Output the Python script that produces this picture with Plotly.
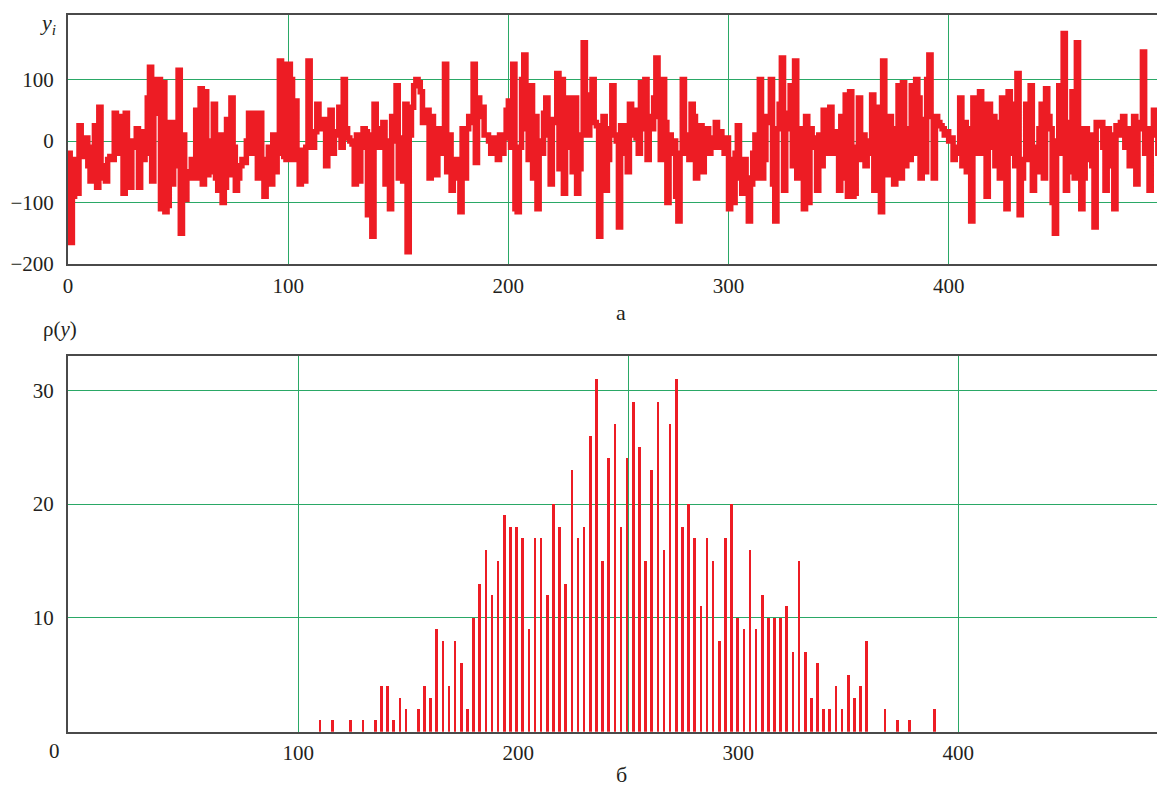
import plotly.graph_objects as go

# ---------------- data ----------------
# (a) time series y_i, i = 0..498
Y_SERIES = [
    -20, -165, -90, -30, -85, 25, -20, -25, 5, -40,
    -65, -10, 25, -75, 55, -40, -60, -65, -30, -25,
    -30, 45, -20, 40, 25, -85, 45, -10, -75, 0,
    -10, 20, -75, 15, -30, -20, 70, 120, -65, 100,
    45, 100, -110, 95, -115, -105, 30, -70, 30, -40,
    115, -150, 10, -95, -60, -50, -30, -60, 50, -60,
    85, -70, 80, -55, 0, -50, 60, -60, -80, 10,
    -100, -75, 35, -55, 70, -10, -80, -60, -40, -30,
    -35, 0, 45, -20, 45, 40, -60, 45, -30, -90,
    -70, -10, -70, 10, -50, -20, 130, 125, -25, -30,
    125, 100, -30, 65, -20, -70, -15, -65, -10, 130,
    10, -10, 15, 60, 30, 20, 35, -40, 10, 50,
    -20, 15, 10, 55, -10, 100, 20, 5, 0, -5,
    -70, 10, -65, -10, 20, 15, -120, 10, -155, 60,
    20, -10, 15, 30, -70, 0, -110, 40, 0, 90,
    -60, 5, -65, 60, -180, 10, 55, 90, 100, 95,
    80, 30, 40, 50, -60, 40, -20, -55, 20, -20,
    -10, 125, -50, 10, -80, -40, -30, -60, -115, 20,
    -60, 20, 40, 30, 125, -35, 70, 40, 55, 10,
    10, 0, -20, 5, -10, -30, 10, -20, 5, 50,
    65, -10, 125, -110, -115, -10, 100, 140, 20, -30,
    90, -60, 40, -110, 0, -20, 45, 70, 10, -70,
    35, 30, 110, -45, 100, -85, 70, -10, 70, -50,
    70, -85, -45, 10, 160, 60, 10, 75, 100, 30,
    25, -155, 20, 40, -80, -30, 20, 90, 10, 0,
    -140, 25, -20, 25, -50, 60, 10, 50, 5, -20,
    95, 20, 100, -30, 40, 20, 70, 135, 40, -30,
    100, 30, -100, 10, -20, 0, -90, -130, -20, 100,
    -20, 10, -30, 60, 40, -60, 15, 25, -50, 0,
    20, -20, 5, -10, 30, -10, 15, 0, -20, 5,
    -110, -30, -100, -20, 25, -60, -85, -30, -60, -130,
    -70, -20, 10, -60, 100, -60, -30, 40, 30, 100,
    -70, -130, 20, 60, 135, -80, 45, 20, 90, -40,
    130, -60, 20, -40, -110, 40, -100, 20, -10, 5,
    -80, 10, -40, 50, -20, 50, 55, -20, 10, 15,
    -80, 40, -60, 75, -90, 80, -90, -85, -10, 70,
    -30, 10, -40, 0, -20, 75, -80, 55, 20, -115,
    130, -20, -55, 40, -50, -70, 20, 90, -60, 95,
    -40, 20, -30, 90, -20, 100, 70, -60, 35, -50,
    100, 140, 40, -60, 40, 30, 25, 20, 10, 15,
    0, 5, -30, -20, -10, 70, -40, 30, -50, 20,
    -130, 70, -20, 20, 80, -20, 60, -90, 60, -10,
    40, -40, 30, -60, 70, 20, -110, 80, -20, 60,
    -40, 110, -120, -60, -30, 60, -30, 90, -80, -10,
    -50, 20, 60, -60, 85, 40, 20, -100, -150, 0,
    90, -20, 175, -80, -50, 30, 80, -60, 160, 20,
    -110, -60, 20, -30, 10, -40, -140, 30, 25, 30,
    -10, -80, 20, 10, -40, -110, 25, 10, 30, 40,
    -10, 20, -40, 10, 40, -70, 20, 30, 145, -20,
    20, -80, 10, 50, 50, -20, -40, 30, 30,
]

# (б) histogram rho(y): counts in consecutive bins
RHO_BIN_START = 109.86
RHO_BIN_STEP = 2.792
RHO_COUNTS = [
    1, 0, 1, 0, 0, 1, 0, 1, 0, 1,
    4, 4, 1, 3, 2, 0, 2, 4, 3, 9,
    8, 4, 8, 6, 2, 10, 13, 16, 12, 15,
    19, 18, 18, 17, 9, 17, 17, 12, 20, 18,
    13, 23, 17, 18, 26, 31, 15, 24, 27, 18,
    24, 29, 25, 15, 23, 29, 16, 27, 31, 18,
    20, 17, 11, 17, 15, 8, 17, 20, 10, 9,
    16, 9, 12, 10, 10, 10, 11, 7, 15, 7,
    3, 6, 2, 2, 4, 2, 5, 3, 4, 8,
    0, 0, 2, 0, 1, 0, 1, 0, 0, 0,
    2,
]

TOP_X_TICKS = [0, 100, 200, 300, 400]
TOP_Y_TICKS = [-200, -100, 0, 100]
BOT_X_TICKS = [100, 200, 300, 400]
BOT_X_GRID = [100, 250, 400]
BOT_Y_TICKS = [10, 20, 30]

# ---------------- style ----------------
OFF = 8                      # page body margin
W, H = 1165 - OFF, 786 - OFF
RED = "#ED1C24"
GRID = "#2AA866"
FRAME = "#4A4A4A"
TXT = "#231F20"
FONT = "'Liberation Serif', 'Times New Roman', Times, 'DejaVu Serif', serif"


def px_x(p):
    return (p - OFF) / W


def px_y(p):
    return 1 - (p - OFF) / H


x_dom = [px_x(68), px_x(1164)]
top_dom = [px_y(264), px_y(15)]
bot_dom = [px_y(731.7), px_y(356)]

i_vals = list(range(len(Y_SERIES)))
rho_x = [RHO_BIN_START + k * RHO_BIN_STEP for k in range(len(RHO_COUNTS))]

fig = go.Figure()
fig.add_trace(go.Scatter(
    x=i_vals, y=Y_SERIES, mode="lines",
    line=dict(color=RED, width=5.5, shape="hv"),
    xaxis="x", yaxis="y", hoverinfo="skip", showlegend=False,
))
fig.add_trace(go.Bar(
    x=rho_x, y=RHO_COUNTS, width=1.2,
    marker=dict(color=RED, line=dict(width=0)),
    xaxis="x2", yaxis="y2", hoverinfo="skip", showlegend=False,
))
fig.add_trace(go.Scatter(x=[], y=[], xaxis="x3", yaxis="y2", showlegend=False))

axis_common = dict(
    showline=True, mirror=True, linecolor=FRAME, linewidth=2,
    zeroline=False, ticks="", automargin=False,
    gridcolor=GRID, gridwidth=1.4,
    tickfont=dict(family=FONT, size=21, color=TXT),
)

fig.update_layout(
    width=W, height=H,
    margin=dict(l=0, r=0, t=0, b=0),
    paper_bgcolor="white", plot_bgcolor="white",
    showlegend=False, bargap=0,
    font=dict(family=FONT, size=21, color=TXT),
    xaxis=dict(domain=x_dom, anchor="y", range=[0, 497.8],
               tickmode="array", tickvals=TOP_X_TICKS, showgrid=True,
               ticklabelstandoff=2, **axis_common),
    yaxis=dict(domain=top_dom, anchor="x", range=[-200, 205],
               tickmode="array", tickvals=TOP_Y_TICKS, showgrid=True,
               ticklabelstandoff=8, **axis_common),
    xaxis2=dict(domain=x_dom, anchor="y2", range=[-4.68, 493.5],
                tickmode="array", tickvals=BOT_X_TICKS, showgrid=False,
                ticklabelstandoff=1, **axis_common),
    xaxis3=dict(domain=x_dom, anchor="y2", overlaying="x2", range=[-4.68, 493.5],
                tickmode="array", tickvals=BOT_X_GRID, showgrid=True,
                showticklabels=False, showline=False, zeroline=False,
                gridcolor=GRID, gridwidth=1.4, automargin=False),
    yaxis2=dict(domain=bot_dom, anchor="x2", range=[0, 33],
                tickmode="array", tickvals=BOT_Y_TICKS, showgrid=True,
                ticklabelstandoff=8, **axis_common),
)

ann = [
    ("<i>y<sub>i</sub></i>", 48, 24, 22),
    ("<i>i</i>", 1160, 289, 22),
    ("а", 621, 312, 22),
    ("ρ(<i>y</i>)", 60, 329, 21),
    ("0", 54, 751, 21),
    ("<i>i</i>", 1160, 751, 22),
    ("б", 621, 774, 22),
]
for text, x, y, size in ann:
    fig.add_annotation(
        text=text, x=px_x(x), y=px_y(y), xref="paper", yref="paper",
        showarrow=False, xanchor="center", yanchor="middle",
        font=dict(family=FONT, size=size, color=TXT),
    )

fig.write_html("out.html")
